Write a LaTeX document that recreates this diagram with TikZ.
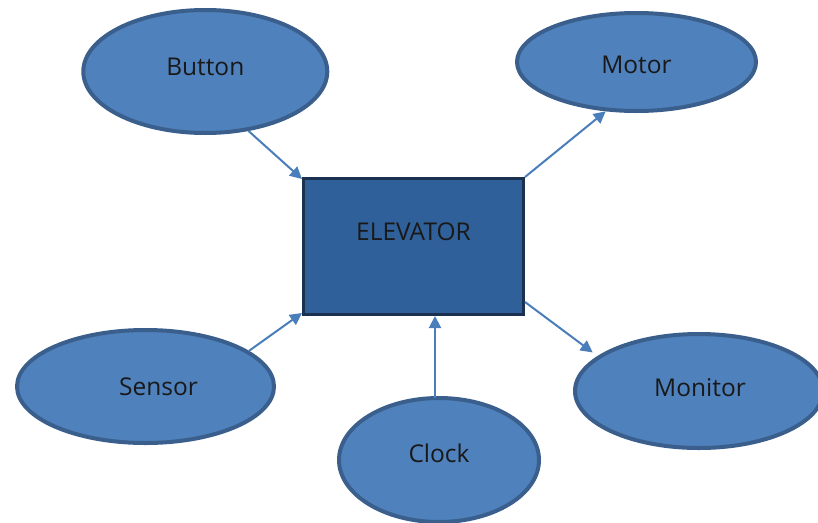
\documentclass[tikz,border=0pt]{standalone}
\usepackage{fontspec}
\setmainfont{Open Sans}
\usetikzlibrary{shapes.geometric,arrows.meta,calc}

\definecolor{ovalfill}{HTML}{4F81BD}
\definecolor{ovalline}{HTML}{3A5F8C}
\definecolor{boxfill}{HTML}{30609A}
\definecolor{boxline}{HTML}{1C3150}
\definecolor{arrowblue}{HTML}{4A7EBB}

\tikzset{
  oval/.style={ellipse, draw=ovalline, fill=ovalfill, line width=4pt, inner sep=0pt},
  corebox/.style={rectangle, draw=boxline, fill=boxfill, line width=3pt, inner sep=0pt,
    minimum width=220pt, minimum height=136pt},
  lbl/.style={font=\fontsize{24.5}{28}\selectfont, text=black!90, inner sep=0pt},
  arr/.style={draw=arrowblue, line width=2pt, -{Triangle[length=12pt,width=12pt]}},
}

\begin{document}
\begin{tikzpicture}[x=1pt,y=-1pt]
  \useasboundingbox (0,0) rectangle (818,522);
  \clip (0,0) rectangle (818,522);

  % central block
  \node[corebox] (elev) at (413.5,246.5) {};
  \node[lbl] (elevtxt) at ([yshift=15pt]elev.center) {ELEVATOR};

  % surrounding components
  \node[oval, minimum width=244pt, minimum height=123pt] (button)  at (205.3,71.5) {};
  \node[oval, minimum width=239pt, minimum height=98pt]  (motor)   at (636.5,62)   {};
  \node[oval, minimum width=257pt, minimum height=113pt] (sensor)  at (145.5,386.5) {};
  \node[oval, minimum width=200pt, minimum height=124pt] (clock)   at (439,460)    {};
  \node[oval, minimum width=248pt, minimum height=114pt] (monitor) at (699,391)    {};

  \node[lbl] (buttontxt)  at ([yshift=5pt]button.center)  {Button};
  \node[lbl] (motortxt)   at ([yshift=-3pt]motor.center)  {Motor};
  \node[lbl] (sensortxt)  at ([xshift=13pt]sensor.center) {Sensor};
  \node[lbl] (clocktxt)   at ([yshift=7pt]clock.center)   {Clock};
  \node[lbl] (monitortxt) at ([xshift=1pt,yshift=3pt]monitor.center) {Monitor};

  % signal flow
  \draw[arr] (button.-54.5) -- ([yshift=-2pt]elev.north west);
  \draw[arr] (elev.north east) -- (motor.-122);
  \draw[arr] (sensor.19) -- ([yshift=3pt]elev.south west);
  \draw[arr] ([xshift=-4pt,yshift=-2pt]clock.north) -- ([xshift=-4pt]clock.north |- elev.south);
  \draw[arr, shorten >=6pt] ([yshift=14pt]elev.south east) -- (monitor.161.6);
\end{tikzpicture}
\end{document}
